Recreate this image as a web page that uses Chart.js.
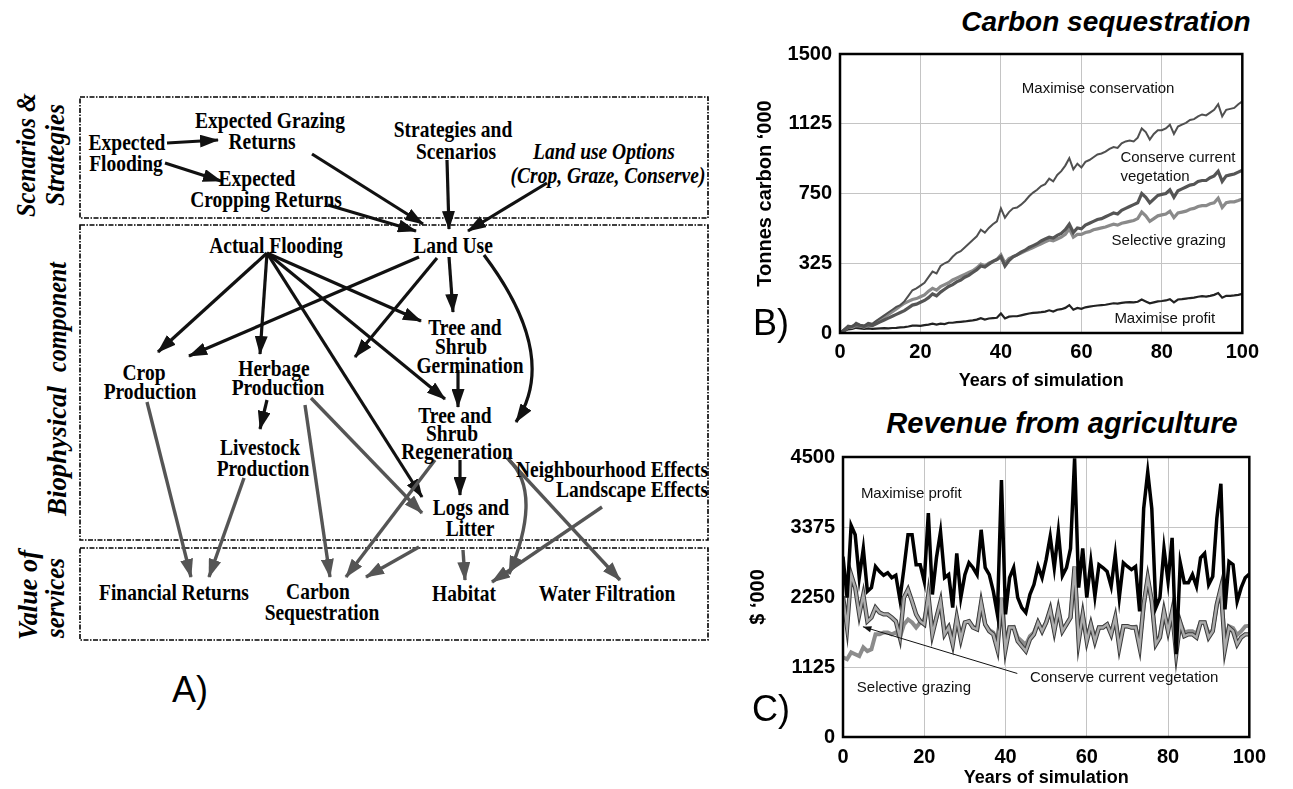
<!DOCTYPE html>
<html>
<head>
<meta charset="utf-8">
<script src="https://cdn.jsdelivr.net/npm/chart.js@4"></script>
<style>
body { margin:0; background:#fff; width:1293px; height:789px; position:relative; overflow:hidden; font-family:"Liberation Sans", Arial, sans-serif; }
#diagram { position:absolute; left:0; top:0; }
.wrap { position:absolute; }
.title { position:absolute; font-weight:bold; font-style:italic; transform:translate(-50%,-50%); white-space:nowrap; color:#000; }
.panel { position:absolute; font-size:36px; transform:translate(-50%,-50%); color:#000; }
</style>
</head>
<body>
<svg id="diagram" width="740" height="789" xmlns="http://www.w3.org/2000/svg"></svg>

<div class="title" style="left:1106px;top:22px;font-size:28px">Carbon sequestration</div>
<div class="wrap" style="left:745px;top:34px;width:521px;height:361px"><canvas id="carbon-chart"></canvas></div>
<div class="panel" style="left:771px;top:323px">B)</div>

<div class="title" style="left:1062px;top:423px;font-size:29px">Revenue from agriculture</div>
<div class="wrap" style="left:745px;top:437px;width:529px;height:352px"><canvas id="revenue-chart"></canvas></div>
<div class="panel" style="left:771px;top:709px">C)</div>

<div class="panel" style="left:190px;top:690px">A)</div>

<script>
// data

const years = Array.from({length: 101}, (_, i) => i);
const xTicks = [0, 20, 40, 60, 80, 100];

const carbonTickLabels = ['0', '325', '750', '1125', '1500'];
const revenueTickLabels = ['0', '1125', '2250', '3375', '4500'];

// B) tonnes carbon '000
const carbonConservation = [0,20,40,35,55,45,40,55,50,65,80,95,110,125,140,150,170,200,230,240,255,270,300,330,320,360,375,385,410,430,440,460,480,500,520,555,540,565,585,600,670,620,650,670,675,690,710,735,755,770,790,800,830,815,850,870,900,940,880,910,890,920,930,945,960,965,975,990,1000,995,1020,1030,1035,1030,1050,1100,1080,1040,1070,1090,1090,1100,1120,1070,1110,1120,1130,1145,1150,1165,1175,1170,1185,1200,1230,1165,1200,1205,1210,1230,1245];
const carbonConserveVeg = [0,15,30,35,45,40,35,45,40,50,60,70,80,90,100,110,120,135,150,155,165,175,190,210,200,220,235,250,260,275,285,300,310,325,340,360,355,370,385,395,410,360,390,410,420,435,445,460,470,480,495,505,515,510,525,535,555,585,540,565,560,580,590,600,610,615,625,635,645,640,660,670,680,690,700,750,730,700,720,740,745,750,770,730,765,775,785,795,800,815,820,820,835,845,870,815,845,850,855,865,875];
const carbonSelective = [0,15,30,30,40,38,32,40,40,55,70,85,100,115,130,145,160,170,180,185,195,205,225,240,230,250,260,270,285,295,305,315,325,335,350,370,360,375,385,395,420,375,400,410,420,430,440,450,460,470,480,490,500,495,505,515,530,560,515,530,530,540,545,555,560,565,570,578,585,580,590,595,600,605,615,650,630,600,615,630,635,640,655,620,645,650,655,665,670,680,685,685,695,700,725,675,700,705,705,712,720];
const carbonProfit = [0,10,20,22,28,25,22,25,22,24,25,26,25,27,28,30,32,35,40,40,38,42,45,50,45,50,48,55,55,58,60,62,65,68,72,80,72,78,80,82,105,78,88,90,90,95,100,105,108,110,112,115,122,115,125,128,135,150,125,135,130,138,142,145,148,150,152,156,160,158,162,165,166,165,168,180,170,160,165,170,172,175,182,165,180,182,185,188,190,195,198,196,200,205,215,190,200,200,202,205,210];

// C) revenue $ '000
const revenueProfit = [2900,2240,3400,3250,2560,3030,2340,2400,2740,2660,2600,2640,2560,2600,2210,2710,3250,3250,2770,2770,2500,3600,2290,2880,3300,2560,2610,2080,2950,2240,2610,2800,2720,2610,3330,2720,2610,2340,1970,4130,1970,2560,2720,2240,2080,2000,2290,2450,2740,2560,2850,3220,2720,3300,2590,2720,3030,4480,2400,3030,2240,2820,2260,2770,2720,2660,2420,2930,2240,2800,2740,2690,2740,2020,3670,4260,3670,2080,2240,3030,2500,3200,1330,2800,2480,2480,2610,2420,2880,2950,2450,2580,3510,4070,2050,2820,2770,2180,2400,2560,2620];
const revenueConserveVeg = [2260,1760,2610,2400,1970,2290,1860,1920,2080,2000,1970,1970,1920,1860,1600,2240,2370,2180,1970,1860,1810,2290,1650,1920,2180,1650,1760,1490,1920,1570,1840,1860,1760,1730,2160,1810,1700,1650,1410,2240,1410,1760,1760,1540,1460,1380,1570,1650,1840,1700,1840,2050,1700,2050,1700,1810,1920,2740,1540,1970,1540,1810,1540,1760,1760,1810,1650,1920,1440,1780,1780,1760,1760,1440,2130,2560,2180,1490,1600,2020,1700,2020,1330,1840,1620,1650,1650,1600,1840,1840,1600,1700,2130,2400,1410,1760,1700,1490,1600,1650,1650];
const revenueSelective = [1280,1250,1360,1330,1300,1440,1380,1410,1650,1650,1680,1680,1650,1680,1600,1810,1890,1840,1760,1840,1890,2200,1700,1920,2150,1700,1780,1560,1900,1620,1840,1860,1770,1740,2140,1810,1720,1680,1480,2200,1480,1760,1770,1600,1540,1480,1620,1680,1840,1720,1840,2040,1720,2030,1720,1810,1920,2700,1600,1960,1580,1810,1590,1760,1770,1810,1680,1900,1500,1780,1780,1760,1770,1500,2110,2540,2170,1540,1620,2000,1720,2000,1450,1840,1680,1700,1700,1660,1840,1840,1660,1720,2120,2380,1500,1780,1750,1640,1700,1780,1790];

// line labels, in data units
const carbonNotes = [
    {text: 'Maximise conservation', x: 45.2, y: 1312},
    {text: 'Conserve current', x: 69.7, y: 943},
    {text: 'vegetation', x: 69.7, y: 841},
    {text: 'Selective grazing', x: 67.5, y: 493},
    {text: 'Maximise profit', x: 68.2, y: 75}
];
const revenueNotes = [
    {text: 'Maximise profit', x: 4.4, y: 3910},
    {text: 'Selective grazing', x: 3.4, y: 782},
    {text: 'Conserve current vegetation', x: 46, y: 958}
];
const revenuePointer = {from: [42.9, 1021], to: [4.9, 1772]};

// diagram A

const diagramText = [
    ['Expected', 127, 142], ['Flooding', 126, 163],
    ['Expected Grazing', 270, 120], ['Returns', 262, 141],
    ['Expected', 257, 178], ['Cropping Returns', 266, 199],
    ['Strategies and', 453, 129], ['Scenarios', 456, 151],
    ['Actual Flooding', 276, 245], ['Land Use', 453, 245],
    ['Tree and', 465, 327], ['Shrub', 461, 346], ['Germination', 470, 365],
    ['Crop', 144, 372], ['Production', 150, 391],
    ['Herbage', 274, 368], ['Production', 278, 387],
    ['Livestock', 260, 447], ['Production', 263, 468],
    ['Tree and', 455, 415], ['Shrub', 452, 433], ['Regeneration', 457, 451],
    ['Neighbourhood Effects', 612, 469], ['Landscape Effects', 632, 489],
    ['Logs and', 471, 507], ['Litter', 470, 528],
    ['Financial Returns', 174, 592],
    ['Carbon', 318, 591], ['Sequestration', 322, 612],
    ['Habitat', 464, 593], ['Water Filtration', 607, 593]
];
const diagramItalic = [['Land use Options', 604, 151], ['(Crop, Graze, Conserve)', 608, 175]];
const sideLabels = [
    ['Scenarios &', 26, 155, 124], ['Strategies', 55, 155, 102],
    ['component', 57, 317, 110], ['Biophysical', 57, 451, 130],
    ['Value of', 28, 595, 90], ['services', 55, 598, 80]
];
const boxes = [[80, 97, 628, 121], [80, 225, 628, 315], [80, 548, 628, 92]];

const blackArrows = [
    [167,143,218,140], [165,163,221,181], [312,154,423,224], [328,205,416,231], [447,160,449,229], [547,183,468,231],
    [267,253,158,352], [267,253,260,354], [267,253,422,497], [267,253,445,399], [267,253,421,321],
    [419,257,189,356], [437,258,355,357], [449,257,453,312],
    [458,370,458,407], [267,400,260,429], [460,460,460,495]
];
const greyArrows = [
    [147,402,191,577], [244,478,209,577], [305,405,330,577], [311,398,422,513],
    [435,460,346,577], [419,547,366,577], [463,550,465,580], [509,460,620,580], [602,507,492,582]
];
const blackCurves = [[484,255,560,356,516,422]];
const greyCurves = [[507,458,544,491,509,574]];

const svg = document.getElementById('diagram');
const NS = 'http://www.w3.org/2000/svg';

function add(tag, attrs, text) {
    const el = document.createElementNS(NS, tag);
    for (const k in attrs) el.setAttribute(k, attrs[k]);
    if (text) el.textContent = text;
    svg.appendChild(el);
    return el;
}

const defs = add('defs', {});
[['head-black', '#111'], ['head-grey', '#555']].forEach(([id, col]) => {
    const m = document.createElementNS(NS, 'marker');
    m.setAttribute('id', id);
    m.setAttribute('markerUnits', 'userSpaceOnUse');
    m.setAttribute('markerWidth', 19);
    m.setAttribute('markerHeight', 13);
    m.setAttribute('refX', 18);
    m.setAttribute('refY', 6.5);
    m.setAttribute('orient', 'auto');
    const p = document.createElementNS(NS, 'path');
    p.setAttribute('d', 'M0,0 L19,6.5 L0,13 z');
    p.setAttribute('fill', col);
    m.appendChild(p);
    defs.appendChild(m);
});

boxes.forEach(([x, y, w, h]) => {
    add('rect', {x, y, width: w, height: h, fill: 'none', stroke: '#000', 'stroke-width': 1.6, 'stroke-dasharray': '5 1.5 1.5 1.5'});
});

blackArrows.forEach(([x1, y1, x2, y2]) => {
    add('line', {x1, y1, x2, y2, stroke: '#111', 'stroke-width': 3.2, 'marker-end': 'url(#head-black)'});
});
greyArrows.forEach(([x1, y1, x2, y2]) => {
    add('line', {x1, y1, x2, y2, stroke: '#555', 'stroke-width': 3.4, 'marker-end': 'url(#head-grey)'});
});
blackCurves.forEach(([x1, y1, cx, cy, x2, y2]) => {
    add('path', {d: `M${x1},${y1} Q${cx},${cy} ${x2},${y2}`, fill: 'none', stroke: '#111', 'stroke-width': 3.2, 'marker-end': 'url(#head-black)'});
});
greyCurves.forEach(([x1, y1, cx, cy, x2, y2]) => {
    add('path', {d: `M${x1},${y1} Q${cx},${cy} ${x2},${y2}`, fill: 'none', stroke: '#555', 'stroke-width': 3.4, 'marker-end': 'url(#head-grey)'});
});

// the original lettering is tall and narrow, so it is stretched vertically
diagramText.forEach(([t, x, y]) => {
    add('text', {x: 0, y: 0, transform: `translate(${x},${y}) scale(1,1.2)`, 'text-anchor': 'middle', 'dominant-baseline': 'central',
        'font-family': 'Liberation Serif, Times New Roman, serif', 'font-weight': 'bold', 'font-size': 19.5}, t);
});
diagramItalic.forEach(([t, x, y]) => {
    add('text', {x: 0, y: 0, transform: `translate(${x},${y}) scale(1,1.2)`, 'text-anchor': 'middle', 'dominant-baseline': 'central',
        'font-family': 'Liberation Serif, Times New Roman, serif', 'font-weight': 'bold', 'font-style': 'italic', 'font-size': 19.5}, t);
});
sideLabels.forEach(([t, x, y, len]) => {
    add('text', {x: 0, y: 0, transform: `translate(${x},${y}) rotate(-90)`, 'text-anchor': 'middle', 'dominant-baseline': 'central',
        'font-family': 'Liberation Serif, Times New Roman, serif', 'font-weight': 'bold', 'font-style': 'italic', 'font-size': 27,
        textLength: len, lengthAdjust: 'spacingAndGlyphs'}, t);
});

// charts

const pairs = (vals) => vals.map((v, i) => ({x: years[i], y: v}));

const framePlugin = {
    id: 'frame',
    afterDatasetsDraw(chart) {
        const {ctx, chartArea: a} = chart;
        ctx.save();
        ctx.strokeStyle = '#000';
        ctx.lineWidth = 2.5;
        ctx.strokeRect(a.left, a.top, a.right - a.left, a.bottom - a.top);
        ctx.restore();
    }
};

function notesPlugin(notes, pointer) {
    return {
        id: 'notes',
        afterDraw(chart) {
            const {ctx, scales: {x, y}} = chart;
            ctx.save();
            ctx.font = '15px "Liberation Sans", Arial, sans-serif';
            ctx.fillStyle = '#111';
            ctx.textAlign = 'left';
            ctx.textBaseline = 'middle';
            notes.forEach(n => ctx.fillText(n.text, x.getPixelForValue(n.x), y.getPixelForValue(n.y)));
            if (pointer) {
                const x1 = x.getPixelForValue(pointer.from[0]), y1 = y.getPixelForValue(pointer.from[1]);
                const x2 = x.getPixelForValue(pointer.to[0]), y2 = y.getPixelForValue(pointer.to[1]);
                const ang = Math.atan2(y2 - y1, x2 - x1);
                ctx.strokeStyle = '#111';
                ctx.lineWidth = 1;
                ctx.beginPath();
                ctx.moveTo(x1, y1);
                ctx.lineTo(x2, y2);
                ctx.stroke();
                ctx.beginPath();
                ctx.moveTo(x2, y2);
                ctx.lineTo(x2 - 9 * Math.cos(ang - 0.35), y2 - 9 * Math.sin(ang - 0.35));
                ctx.lineTo(x2 - 9 * Math.cos(ang + 0.35), y2 - 9 * Math.sin(ang + 0.35));
                ctx.closePath();
                ctx.fill();
            }
            ctx.restore();
        }
    };
}

const tickFont = {family: '"Liberation Sans", Arial, sans-serif', size: 20, weight: 'bold'};
const titleFont = {family: '"Liberation Sans", Arial, sans-serif', size: 18, weight: 'bold'};
const yTitleFont = {family: '"Liberation Sans", Arial, sans-serif', size: 20, weight: 'bold'};
const gridStyle = {color: '#c4c4c4', lineWidth: 1, drawTicks: false};

function xAxis(height, tickPad, titlePad) {
    return {
        type: 'linear', min: 0, max: 100,
        afterBuildTicks: s => { s.ticks = xTicks.map(v => ({value: v})); },
        ticks: {font: tickFont, color: '#000', padding: tickPad, maxRotation: 0},
        grid: gridStyle,
        border: {display: false},
        title: {display: true, text: 'Years of simulation', font: titleFont, color: '#000', padding: {top: 0, bottom: titlePad}},
        afterFit: s => { s.height = height; }
    };
}

function yAxis(max, labels, title, width, titlePad) {
    return {
        min: 0, max: max,
        ticks: {stepSize: max / 4, font: tickFont, color: '#000', padding: 8,
            callback: (v, i) => labels[i]},
        grid: gridStyle,
        border: {display: false},
        title: {display: true, text: title, font: yTitleFont, color: '#000', padding: {top: titlePad, bottom: 0}},
        afterFit: s => { s.width = width; }
    };
}

const carbonCanvas = document.getElementById('carbon-chart');

let carbonChart = new Chart(carbonCanvas, {
    type: 'line',
    data: {
        datasets: [
            {label: 'Maximise conservation', data: pairs(carbonConservation), borderColor: '#505050', borderWidth: 2},
            {label: 'Conserve current vegetation', data: pairs(carbonConserveVeg), borderColor: '#555', borderWidth: 3.2},
            {label: 'Selective grazing', data: pairs(carbonSelective), borderColor: '#8a8a8a', borderWidth: 3.2},
            {label: 'Maximise profit', data: pairs(carbonProfit), borderColor: '#222', borderWidth: 2.2}
        ]
    },
    options: {
        responsive: true,
        maintainAspectRatio: false,
        animation: false,
        elements: {point: {radius: 0}, line: {tension: 0}},
        layout: {padding: 0},
        scales: {
            x: xAxis(62, 7, 3),
            y: yAxis(1500, carbonTickLabels, "Tonnes carbon \u2018000", 95, 8)
        },
        plugins: {legend: {display: false}, tooltip: {enabled: false}}
    },
    plugins: [framePlugin, notesPlugin(carbonNotes)]
});

const revenueCanvas = document.getElementById('revenue-chart');

let revenueChart = new Chart(revenueCanvas, {
    type: 'line',
    data: {
        datasets: [
            {label: 'Maximise profit', data: pairs(revenueProfit), borderColor: '#000', borderWidth: 3.5},
            {label: 'Conserve current vegetation', data: pairs(revenueConserveVeg), borderColor: '#ababab', borderWidth: 2.4},
            {label: 'Conserve current vegetation (edge)', data: pairs(revenueConserveVeg), borderColor: '#3c3c3c', borderWidth: 4.4},
            {label: 'Selective grazing', data: pairs(revenueSelective), borderColor: '#8c8c8c', borderWidth: 4}
        ]
    },
    options: {
        responsive: true,
        maintainAspectRatio: false,
        animation: false,
        elements: {point: {radius: 0}, line: {tension: 0}},
        layout: {padding: 0},
        scales: {
            x: xAxis(52, 8, 0),
            y: yAxis(4500, revenueTickLabels, "$ \u2018000", 98, 1)
        },
        plugins: {legend: {display: false}, tooltip: {enabled: false}}
    },
    plugins: [framePlugin, notesPlugin(revenueNotes, revenuePointer)]
});
</script>
</body>
</html>
